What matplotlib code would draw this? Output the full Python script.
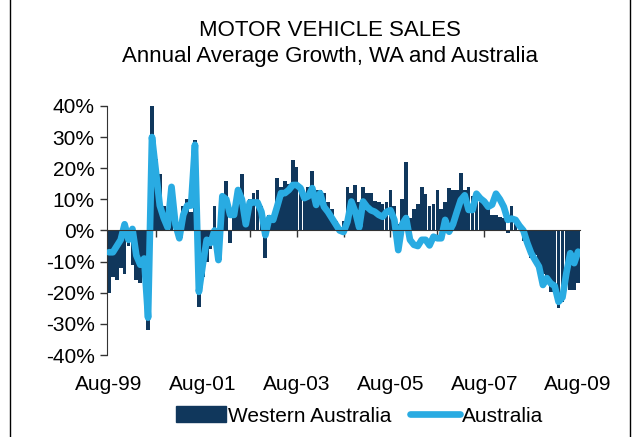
import numpy as np
import matplotlib
matplotlib.use("Agg")
import matplotlib.pyplot as plt
from matplotlib.lines import Line2D

plt.rcParams['font.family'] = ['Liberation Sans', 'DejaVu Sans']

# Monthly data, Aug-99 .. Aug-09 (annual average growth, %)
wa_growth = [
    -20, -15, -16, -12, -14, -5, -11, -16, -17, -10, -32, 40,
    23, 18, 8, 3, 12, 4, -1, 8, 10, 6, 29, -24.5,
    -15, -10, -6, 8, -8, 8, 16, -4, 6, 11, 18, 3,
    10, 12, 13, 8, -9, 5, 4, 17, 14, 16, 15, 22.5,
    20.5, 13, 12, 14, 19, 13, 13, 12, 9, 7, 3, 1,
    3, 14, 12, 14.5, 9, 14, 12, 12, 9.5, 9, 8.5, 9,
    13, 8, 2, 10, 22, 4, 7, 8.5, 14, 11.7, 8, 8.5,
    13, 7, 9, 13.6, 13, 13, 18.5, 13, 14, 11, 10, 9,
    9, 7, 5, 5, 4.4, 4, -0.8, 8, 3, 0, -3.3, -5,
    -9, -8, -12, -14, -17, -19.7, -20, -25, -23, -17, -19, -19,
    -17,
]
aus_growth = [
    -7, -7, -5, -3, 2, -3, 0.5, -8, -11, -9, -28, 30,
    19, 8, 4, 1, 14, 2, -2.5, 5, 8, 8, 27.5, -19.7,
    -11, -3, -4, 0, -9.5, 11, 10, 5, 5, 13, 10, 2,
    9, 9, 9, 6, -1.5, 4, 3.4, 7.6, 12, 12, 13, 14.6,
    14.6, 13.6, 10.4, 11, 13.6, 8.2, 12, 7.6, 6, 4, 2, 0,
    -0.5, 2.8, 9.3, 6, 1, 9.3, 7.6, 6.5, 6, 5, 4.4, 6,
    6.5, 3.4, -6.3, 2, 4, -3, -4.6, -5, -3, -3, -4.8, -2,
    -2.5, -2.5, 3.4, -0.4, 2, 6, 9.8, 11.3, 6.6, 6.6, 11.8, 10.3,
    9.3, 7.6, 8.3, 11.8, 10, 7.6, 3.4, 3.8, 3.4, 1.5, 0, -4,
    -7.3, -9.5, -11.6, -17.5, -15.3, -17, -17.8, -22.9, -21.5, -13.7, -7.3, -10.5,
    -6.8,
]
tick_labels = ['Aug-99', 'Aug-01', 'Aug-03', 'Aug-05', 'Aug-07', 'Aug-09']

bar_color = '#10375c'
line_color = '#29abe2'

x = np.arange(len(wa_growth))

fig = plt.figure(figsize=(6.37, 4.37), dpi=100)
ax = fig.add_axes([0.168, 0.1876, 0.7426, 0.570])

ax.bar(x, wa_growth, width=0.95, color=bar_color, zorder=2)
ax.plot(x, aus_growth, color=line_color, lw=4.8, solid_joinstyle='round',
        solid_capstyle='round', zorder=3)

ax.set_xlim(-0.5, len(x) - 0.5)
ax.set_ylim(-40, 40)
ax.set_yticks(np.arange(-40, 41, 10))
ax.set_yticklabels([f'{v}%' for v in range(-40, 41, 10)], fontsize=15)
ax.tick_params(axis='y', direction='out', length=5, width=1, pad=4, color='#333333')

# x axis sits on the zero line, labels below the plot
ax.spines['bottom'].set_position(('data', 0))
ax.spines['top'].set_visible(False)
ax.spines['right'].set_visible(False)
ax.spines['left'].set_color('#333333')
ax.spines['bottom'].set_color('#333333')
ax.spines['bottom'].set_zorder(4)
ax.set_xticks(np.arange(0, len(x), 12))
ax.tick_params(axis='x', direction='out', length=5, width=1, color='#333333',
               labelbottom=False)
for k, lab in enumerate(tick_labels):
    ax.text(k * 24, -0.118, lab, transform=ax.get_xaxis_transform(),
            ha='center', va='center', fontsize=15)

fig.text(0.518, 0.931, 'MOTOR VEHICLE SALES', ha='center', va='center', fontsize=16)
fig.text(0.518, 0.870, 'Annual Average Growth, WA and Australia', ha='center',
         va='center', fontsize=16)

handles = [plt.Rectangle((0, 0), 1, 1, color=bar_color),
           Line2D([0], [0], color=line_color, lw=4.8, solid_capstyle='round')]
fig.legend(handles, ['Western Australia', 'Australia'], loc='center',
           bbox_to_anchor=(0.565, 0.048), ncol=2, frameon=False, fontsize=15,
           handlelength=2.4, handleheight=0.8, handletextpad=0.1, columnspacing=0.9)

# outer chart border (left and right edges visible)
fig.add_artist(Line2D([0.016, 0.016], [0, 1], color='black', lw=1,
                      transform=fig.transFigure))
fig.add_artist(Line2D([0.989, 0.989], [0, 1], color='black', lw=1,
                      transform=fig.transFigure))

fig.savefig('out.png', dpi=100)
